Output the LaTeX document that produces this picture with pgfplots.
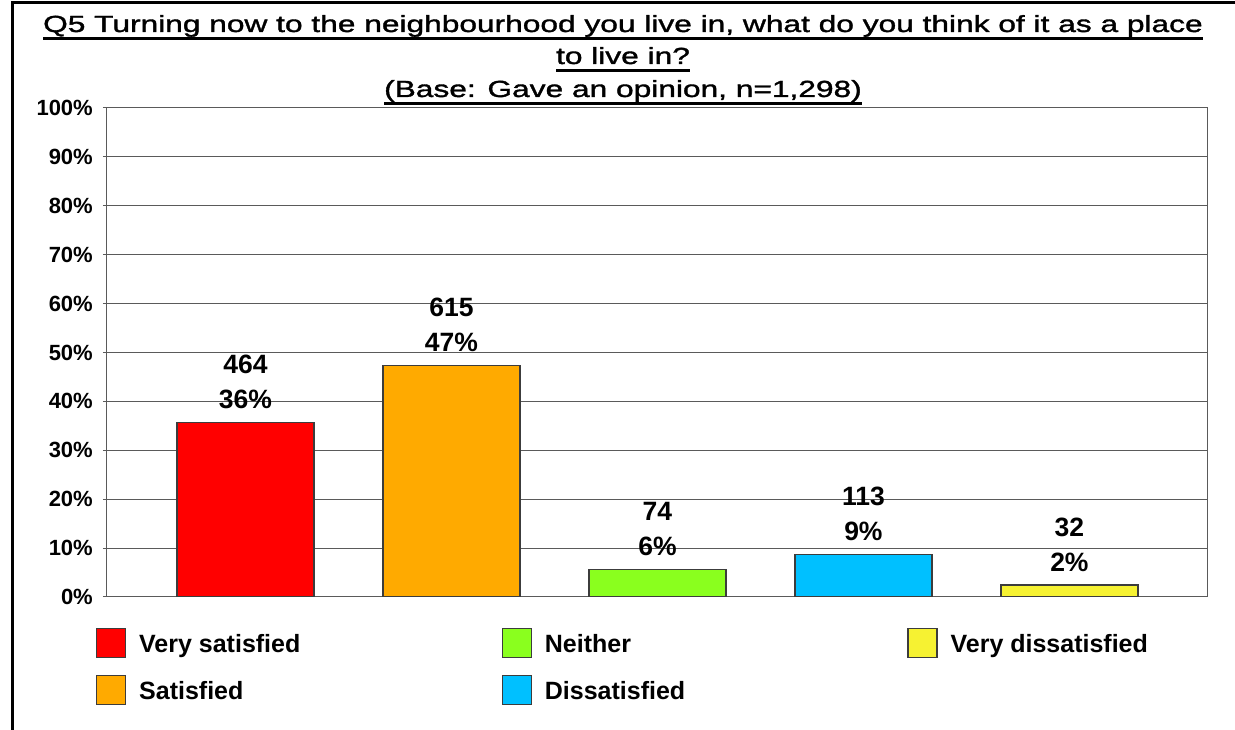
\documentclass[border=0pt]{standalone}
\usepackage{fontspec}
\setmainfont{Liberation Sans}
\newfontfamily\titlefont[FakeStretch=1.36,FakeBold=1.5]{Liberation Sans}
\usepackage{pgfplots}
\pgfplotsset{compat=1.18}
\definecolor{cRed}{RGB}{255,0,0}
\definecolor{cOrange}{RGB}{255,170,0}
\definecolor{cGreen}{RGB}{138,255,30}
\definecolor{cBlue}{RGB}{0,192,255}
\definecolor{cYellow}{RGB}{246,242,50}
\definecolor{edge}{RGB}{60,60,60}
\definecolor{gridc}{RGB}{90,90,90}
\newcommand\ul[1]{\setbox0\hbox{#1}\rlap{\rule[-8pt]{\wd0}{2.5pt}}\box0}
\newcommand\legtxt[2][362.5pt]{\rule{0pt}{18pt}\smash{\raisebox{8pt}{\makebox[#1][l]{#2}}}}
\begin{document}
\begin{tikzpicture}
\useasboundingbox (0pt,0pt) rectangle (1235pt,730pt);
\fill[white] (0pt,0pt) rectangle (1235pt,730pt);
\draw[black, line width=3pt] (12pt,0pt) -- (12pt,727pt) -- (1235pt,727pt);
\begin{scope}[every node/.style={anchor=base, inner sep=0pt, font=\titlefont\fontsize{23.3}{28}\selectfont}]
\node at (623pt,698pt) {\ul{Q5 Turning now to the neighbourhood you live in, what do you think of it as a place}};
\node at (623pt,666pt) {\ul{to live in?}};
\node at (623pt,633pt) {\ul{(Base: Gave an opinion, n=1,298)}};
\end{scope}
\begin{axis}[
  at={(107pt,133pt)}, anchor=south west,
  width=1100pt, height=489pt, scale only axis,
  xmin=-0.672, xmax=4.668, ymin=0, ymax=100,
  xtick=\empty,
  ytick={0,10,...,100},
  yticklabels={0\%,10\%,20\%,30\%,40\%,50\%,60\%,70\%,80\%,90\%,100\%},
  ymajorgrids,
  grid style={draw=gridc, line width=1pt},
  axis line style={draw=gridc, line width=1pt},
  tick style={draw=gridc, line width=1pt},
  ytick align=outside, major tick length=4pt,
  ytick pos=left,
  /pgf/number format/assume math mode=true,
  yticklabel style={font=\bfseries\fontsize{22}{26}\selectfont, inner sep=0pt, anchor=east, xshift=-10pt},
  ybar, bar width=137pt, bar shift=0pt,
  every node near coord/.style={align=center, anchor=south, inner sep=0pt, yshift=13pt, font=\bfseries\fontsize{26.5}{35}\selectfont, text=black},
  legend columns=3,
  legend cell align=left,
  legend image code/.code={\draw[#1, draw=edge, line width=1.2pt] (0pt,-5.5pt) rectangle (29pt,23.5pt);},
  legend style={at={(0,0)}, anchor=north west, xshift=-11pt, yshift=-31pt, draw=none, fill=none, inner sep=0pt, outer sep=0pt, row sep=13pt, column sep=0pt, font=\bfseries\fontsize{25}{30}\selectfont, nodes={inner sep=0pt}, /tikz/every odd column/.append style={column sep=13pt}},
]
\addplot[fill=cRed, draw=edge, line width=1.2pt, nodes near coords={464\\36\%}] coordinates {(0,35.75)};
\addlegendentry{\legtxt{Very satisfied}}
\addplot[fill=cGreen, draw=edge, line width=1.2pt, nodes near coords={74\\6\%}] coordinates {(2,5.70)};
\addlegendentry{\legtxt{Neither}}
\addplot[fill=cYellow, draw=edge, line width=1.2pt, nodes near coords={32\\2\%}] coordinates {(4,2.47)};
\addlegendentry{\legtxt[200pt]{Very dissatisfied}}
\addplot[fill=cOrange, draw=edge, line width=1.2pt, nodes near coords={615\\47\%}] coordinates {(1,47.38)};
\addlegendentry{\legtxt{Satisfied}}
\addplot[fill=cBlue, draw=edge, line width=1.2pt, nodes near coords={113\\9\%}] coordinates {(3,8.71)};
\addlegendentry{\legtxt{Dissatisfied}}
\end{axis}
\end{tikzpicture}
\end{document}
